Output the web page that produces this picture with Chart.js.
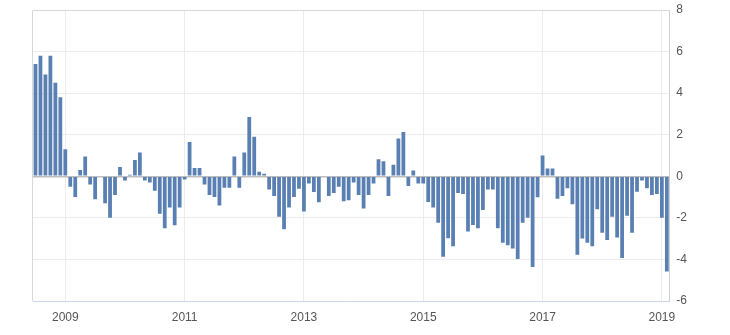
<!DOCTYPE html>
<html>
<head>
<meta charset="utf-8">
<script src="https://cdn.jsdelivr.net/npm/chart.js@4.4.0/dist/chart.umd.min.js"></script>
<style>
  html, body { margin: 0; padding: 0; background: #fff; }
  #wrap { width: 730px; height: 335px; position: relative; }
</style>
</head>
<body>
<div id="wrap"><canvas id="barChart" width="730" height="335"></canvas></div>
<script>
// monthly values, Jul 2008 .. Feb 2019
const startYear = 2008;
const startMonth = 7;
const values = [
  5.4, 5.8, 4.9, 5.8, 4.5, 3.8,
  1.3, -0.5, -1.0, 0.3, 0.95, -0.4, -1.1, 0, -1.3, -2.0, -0.9, 0.45,
  -0.2, 0.07, 0.78, 1.15, -0.2, -0.3, -0.7, -1.8, -2.5, -1.5, -2.35, -1.5,
  -0.15, 1.65, 0.4, 0.4, -0.4, -0.9, -1.0, -1.4, -0.55, -0.55, 0.95, -0.55,
  1.15, 2.85, 1.9, 0.22, 0.12, -0.63, -0.95, -1.95, -2.55, -1.5, -1.0, -0.6,
  -1.7, -0.35, -0.75, -1.25, 0, -0.95, -0.8, -0.5, -1.2, -1.15, -0.3, -0.9,
  -1.55, -0.9, -0.35, 0.82, 0.72, -0.95, 0.55, 1.82, 2.13, -0.47, 0.28, -0.35,
  -0.35, -1.24, -1.5, -2.23, -3.87, -2.98, -3.37, -0.8, -0.85, -2.66, -2.34, -2.5,
  -1.62, -0.63, -0.63, -2.5, -3.2, -3.32, -3.48, -3.98, -2.23, -2.0, -4.37, -1.01,
  1.0, 0.37, 0.37, -1.08, -0.95, -0.58, -1.35, -3.77, -2.99, -3.2, -3.37, -1.58,
  -2.72, -3.06, -1.95, -2.95, -3.93, -1.9, -2.72, -0.74, -0.2, -0.58, -0.9, -0.85,
  -2.0, -4.58
];
const yearLabels = ['2009', '2011', '2013', '2015', '2017', '2019'];
const yTicks = [-6, -4, -2, 0, 2, 4, 6, 8];

const months = [];
for (let i = 0; i < values.length; i++) {
  const m = (startMonth - 1 + i) % 12 + 1;
  const y = startYear + Math.floor((startMonth - 1 + i) / 12);
  months.push(y + '-' + String(m).padStart(2, '0'));
}

function yearOf(idx) {
  const lbl = months[idx];
  if (lbl && lbl.endsWith('-01') && yearLabels.includes(lbl.slice(0, 4))) return lbl.slice(0, 4);
  return '';
}

// frame on the left and top of the plot area
const framePlugin = {
  id: 'frame',
  beforeDatasetsDraw(chart) {
    const a = chart.chartArea, c = chart.ctx;
    c.save();
    c.strokeStyle = '#d8d8d8';
    c.lineWidth = 1;
    c.beginPath();
    c.moveTo(Math.round(a.left) - 0.5, a.bottom);
    c.lineTo(Math.round(a.left) - 0.5, Math.round(a.top) + 0.5);
    c.lineTo(a.right, Math.round(a.top) + 0.5);
    c.stroke();
    c.restore();
  }
};

const ctx = document.getElementById('barChart').getContext('2d');
new Chart(ctx, {
  type: 'bar',
  data: {
    labels: months,
    datasets: [{
      data: values,
      backgroundColor: '#5a80b3',
      borderWidth: 0,
      barPercentage: 0.76,
      categoryPercentage: 1.0
    }]
  },
  options: {
    responsive: false,
    animation: false,
    devicePixelRatio: 1,
    layout: { padding: { left: 33, right: 36, top: 0, bottom: 0 } },
    plugins: { legend: { display: false }, tooltip: { enabled: false } },
    scales: {
      x: {
        offset: true,
        grid: {
          offset: false,
          drawTicks: false,
          color: (c) => (c.tick && yearOf(c.index) ? '#ececec' : 'rgba(0,0,0,0)')
        },
        border: { display: true, color: '#ccd6eb' },
        ticks: {
          autoSkip: false,
          maxRotation: 0,
          padding: 11,
          color: '#555',
          font: { family: 'Liberation Sans, Arial, sans-serif', size: 12, lineHeight: 1 },
          callback: (v, i) => yearOf(i)
        }
      },
      y: {
        position: 'right',
        min: -6,
        max: 8,
        afterBuildTicks: (s) => { s.ticks = yTicks.map(v => ({ value: v })); },
        grid: {
          drawTicks: false,
          color: (c) => (c.tick && c.tick.value === 0 ? '#bdbdbd' : '#ececec'),
          lineWidth: (c) => (c.tick && c.tick.value === 0 ? 1.5 : 1)
        },
        border: { display: true, color: '#d0d0d0' },
        ticks: {
          autoSkip: false,
          padding: 7,
          color: '#555',
          font: { family: 'Liberation Sans, Arial, sans-serif', size: 12, lineHeight: 0.5 }
        }
      }
    }
  },
  plugins: [framePlugin]
});
</script>
</body>
</html>
